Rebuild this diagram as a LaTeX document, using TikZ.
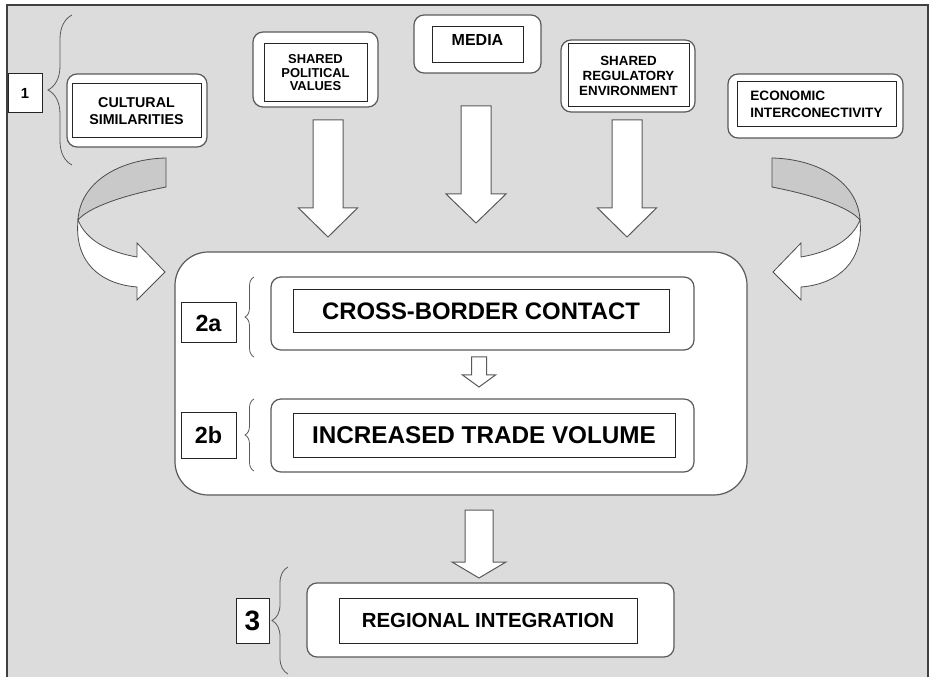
\documentclass[tikz,border=0pt]{standalone}
\usepackage{fontspec}
\setmainfont{Liberation Sans}
\usetikzlibrary{decorations.pathreplacing}

\definecolor{bggray}{HTML}{DCDCDC}
\definecolor{foldgray}{HTML}{C9C9C9}
\definecolor{rimgray}{HTML}{5A5A5A}

\tikzset{
  outer/.style={draw=rimgray, fill=white, line width=0.9pt, rounded corners=7.5pt, inner sep=0pt},
  inner/.style={draw=black!85, fill=white, line width=0.75pt, inner sep=0pt, align=center},
  numbox/.style={draw=black!85, fill=white, line width=0.75pt, inner sep=0pt},
  fat/.style={draw=rimgray, fill=white, line width=0.75pt},
  ribbon/.style={draw=black!70, line width=0.6pt},
  curly/.style={draw=rimgray, line width=0.6pt, decorate, decoration={brace, amplitude=#1}},
}

\newcommand{\fs}[2]{\bfseries\fontsize{#1}{#2}\selectfont}

% block arrow: x, half shaft, half head, top, head base, tip
\newcommand{\fatdown}[6]{%
  \draw[fat] (#1-#2,#4) -- (#1+#2,#4) -- (#1+#2,#5) -- (#1+#3,#5) -- (#1,#6)
    -- (#1-#3,#5) -- (#1-#2,#5) -- cycle;}

\newcommand{\swoop}{%
  \draw[ribbon, fill=foldgray] (772,158) .. controls (818,159) and (858,182) .. (860,220)
    .. controls (850,208) and (818,196) .. (772,187) -- cycle;
  \draw[ribbon, fill=white] (860,220) .. controls (864,262) and (838,284) .. (801,287)
    -- (801,300) -- (773,272) -- (801,243) -- (801,257)
    .. controls (830,252) and (852,240) .. (860,220) -- cycle;}

\begin{document}
\begin{tikzpicture}[x=0.75pt, y=-0.75pt]
    \useasboundingbox (0,0) rectangle (936,677);
    \clip (0,0) rectangle (936,677);
    \draw[fill=bggray, draw=black!75, line width=1pt] (7,5) rectangle (928,700);

    \swoop
    \begin{scope}[shift={(938,0)}, xscale=-1]
      \swoop
    \end{scope}

    \node[numbox, minimum width=25.5pt, minimum height=29.25pt, font=\fs{11}{12}] (l1) at (25,93.5) {1};
    \draw[curly=18pt] (72,165) -- (72,15);

    \node[outer, minimum width=105pt, minimum height=54.75pt] (f1) at (137,110.5) {};
    \node[inner, minimum width=96.75pt, minimum height=40.5pt, font=\fs{10.7}{12.75}] (g1) at (136.5,111) {CULTURAL\\SIMILARITIES};

    \node[outer, minimum width=93.75pt, minimum height=56.25pt] (f2) at (315.5,69.5) {};
    \node[inner, minimum width=77.25pt, minimum height=43.5pt, font=\fs{9.7}{10.1}] (g2) at (315.5,73) {SHARED\\POLITICAL\\VALUES};

    \node[outer, minimum width=95.25pt, minimum height=43.5pt] (f3) at (477.5,44) {};
    \node[inner, minimum width=68.25pt, minimum height=27pt, text height=8.7pt, text depth=7.6pt, font=\fs{12}{14}] (g3) at (477.5,45) {MEDIA};

    \node[outer, minimum width=100.5pt, minimum height=54pt] (f4) at (628,76) {};
    \node[inner, minimum width=90.75pt, minimum height=47.25pt, font=\fs{10}{11.25}] (g4) at (628.5,75.5) {SHARED\\REGULATORY\\ENVIRONMENT};

    \node[outer, minimum width=131.25pt, minimum height=48pt] (f5) at (815.5,106) {};
    \node[inner, align=left, minimum width=119.25pt, minimum height=33.75pt, font=\fs{10.2}{12.75}] (g5) at (816.5,104.5) {ECONOMIC\\INTERCONECTIVITY};

    \fatdown{328}{15}{29.5}{120}{208}{237}
    \fatdown{476}{15}{30}{106}{194}{223}
    \fatdown{627}{15}{29.5}{120}{208}{237}

    \node[outer, rounded corners=25pt, minimum width=429pt, minimum height=182.25pt] (h) at (461,373.5) {};

    \node[numbox, minimum width=41.25pt, minimum height=30pt, font=\fs{17.5}{20}] (l2a) at (208.5,323) {2a};
    \draw[curly=6.75pt] (254,357) -- (254,277);
    \node[outer, minimum width=317.25pt, minimum height=54.75pt] (s2a) at (482.5,313.5) {};
    \node[inner, minimum width=282pt, minimum height=32.25pt, font=\fs{17.9}{20}] (c2a) at (481,311.5) {CROSS-BORDER CONTACT};

    \fatdown{479}{7.5}{16.5}{357}{375}{387}

    \node[numbox, minimum width=41.25pt, minimum height=33.75pt, font=\fs{17.5}{20}] (l2b) at (208.5,435.5) {2b};
    \draw[curly=6.75pt] (254,471) -- (254,399);
    \node[outer, minimum width=317.25pt, minimum height=54.75pt] (s2b) at (482.5,435.5) {};
    \node[inner, minimum width=286.5pt, minimum height=32.25pt, font=\fs{18.2}{20}] (c2b) at (484,435.5) {INCREASED TRADE VOLUME};

    \fatdown{479}{14}{27}{510}{562}{578}

    \node[numbox, minimum width=24.75pt, minimum height=33.75pt, font=\fs{21}{24}] (l3) at (252.5,620.5) {3};
    \draw[curly=12pt] (288,674) -- (288,567);
    \node[outer, minimum width=275.25pt, minimum height=55.5pt] (s3) at (490.5,620) {};
    \node[inner, minimum width=223.5pt, minimum height=33.75pt, font=\fs{15.3}{18}] (c3) at (488,620.5) {REGIONAL INTEGRATION};
\end{tikzpicture}
\end{document}
